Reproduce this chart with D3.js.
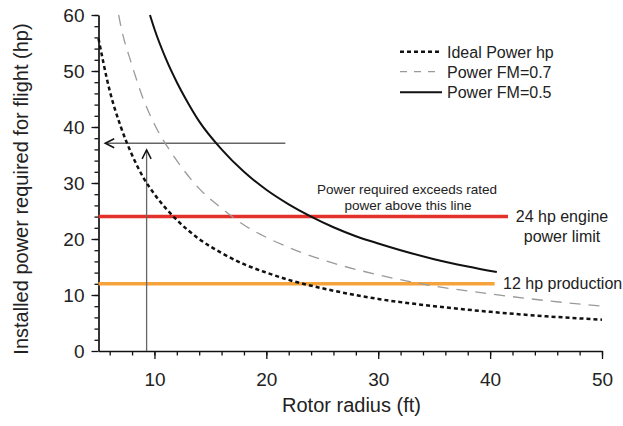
<!DOCTYPE html>
<html><head><meta charset="utf-8">
<script src="https://cdn.jsdelivr.net/npm/d3@7"></script>
<style>body{margin:0;background:#fff}svg{display:block}</style>
</head><body>
<svg id="chart" width="623" height="426"></svg>
<script>
// ---- data ----
const idealRadius = [5, 6, 7, 8, 9, 10, 12, 14, 16, 18, 20, 22, 25, 30, 35, 40, 45, 50];
const idealPower  = [55.8, 46.5, 40, 35, 31, 28, 23.4, 20, 17.5, 15.5, 14, 12.7, 11.2, 9.3, 8, 7, 6.2, 5.6];

const fm07Radius = [6.8, 7, 8, 9, 10, 12, 14, 16, 18, 20, 22, 25, 30, 35, 40, 45, 50];
const fm07Power  = [60, 58, 51, 45, 40.5, 34, 29, 25.5, 22.5, 20.3, 18.5, 16.3, 13.6, 11.6, 10.2, 9, 8];

const fm05Radius = [9.6, 10, 11, 12, 13, 14, 16, 18, 20, 22, 24, 26, 28, 30, 32, 35, 38, 40.6];
const fm05Power  = [60, 57.5, 52.3, 48, 44.3, 41, 36, 32, 28.8, 26.2, 24, 22.1, 20.5, 19.2, 18, 16.4, 15.1, 14.1];

const limitValues = [24, 12];          // hp
const limitEndRadius = [41.6, 40.4];   // ft
const horizArrow = {power: 37.1, from: 21.7, to: 5.6};
const vertArrow  = {radius: 9.3, from: 0, to: 35.9};

const xMajorTicks = [10, 20, 30, 40, 50];
const yMajorTicks = [0, 10, 20, 30, 40, 50, 60];
const legendLabels = ["Ideal Power hp", "Power FM=0.7", "Power FM=0.5"];

// ---- drawing ----
const FONT = "'Liberation Sans', Arial, Helvetica, sans-serif";
const svg = d3.select("#chart");
const x = d3.scaleLinear().domain([5, 50]).range([98.5, 602]);
const y = d3.scaleLinear().domain([0, 60]).range([351, 15]);

const xMinor = d3.range(6, 51, 2);
const yMinor = d3.range(2, 61, 2);

// minor ticks
const gxm = svg.append("g").attr("transform", `translate(0,${y(0)})`)
  .call(d3.axisBottom(x).tickValues(xMinor).tickSize(4.5).tickSizeOuter(0).tickFormat(""));
gxm.select(".domain").remove();
const gym = svg.append("g").attr("transform", `translate(${x(5)},0)`)
  .call(d3.axisLeft(y).tickValues(yMinor).tickSize(4).tickSizeOuter(0).tickFormat(""));
gym.select(".domain").remove();

// major axes
const gx = svg.append("g").attr("transform", `translate(0,${y(0)})`)
  .call(d3.axisBottom(x).tickValues(xMajorTicks).tickSize(8).tickSizeOuter(0).tickPadding(14).tickFormat(d3.format("d")));
const gy = svg.append("g").attr("transform", `translate(${x(5)},0)`)
  .call(d3.axisLeft(y).tickValues(yMajorTicks).tickSize(7).tickSizeOuter(0).tickPadding(7).tickFormat(d3.format("d")));

svg.selectAll(".tick line").attr("stroke", "#111").attr("stroke-width", 1.3);
[gx, gy].forEach(g => {
  g.select(".domain").attr("stroke", "#111").attr("stroke-width", 1.7);
  g.selectAll("text").attr("font-family", FONT).attr("font-size", 19).attr("fill", "#222");
});

// axis titles
svg.append("text").attr("x", 351.5).attr("y", 412).attr("text-anchor", "middle")
  .attr("font-family", FONT).attr("font-size", 20).attr("fill", "#222").text("Rotor radius (ft)");
svg.append("text").attr("transform", "translate(28,189) rotate(-90)").attr("text-anchor", "middle")
  .attr("font-family", FONT).attr("font-size", 20).attr("fill", "#222").text("Installed power required for flight (hp)");

// limit lines
const limitColors = ["#e3302a", "#f5a33a"];
limitValues.forEach((v, i) => {
  svg.append("line").attr("x1", x(5)).attr("x2", x(limitEndRadius[i]))
    .attr("y1", y(v)).attr("y2", y(v))
    .attr("stroke", limitColors[i]).attr("stroke-width", 3.5);
});

// arrows
const defs = svg.append("defs");
defs.append("marker").attr("id", "arrow").attr("markerUnits", "userSpaceOnUse")
  .attr("viewBox", "-10 -6 12 12").attr("refX", 0).attr("refY", 0)
  .attr("markerWidth", 12).attr("markerHeight", 12).attr("orient", "auto")
  .append("path").attr("d", "M-9,-4.5 L0,0 L-9,4.5").attr("fill", "none")
  .attr("stroke", "#111").attr("stroke-width", 1.5);

svg.append("line").attr("x1", x(horizArrow.from)).attr("x2", x(horizArrow.to))
  .attr("y1", y(horizArrow.power)).attr("y2", y(horizArrow.power))
  .attr("stroke", "#666").attr("stroke-width", 1.3).attr("marker-end", "url(#arrow)");
svg.append("line").attr("x1", x(vertArrow.radius)).attr("x2", x(vertArrow.radius))
  .attr("y1", y(vertArrow.from)).attr("y2", y(vertArrow.to))
  .attr("stroke", "#666").attr("stroke-width", 1.3).attr("marker-end", "url(#arrow)");

// curves
const line = d3.line().x(d => x(d[0])).y(d => y(d[1])).curve(d3.curveMonotoneX);
const styles = [
  {stroke: "#111", width: 2.5, dash: "4,3"},
  {stroke: "#9a9a9a", width: 1.3, dash: "11,8"},
  {stroke: "#111", width: 2, dash: null}
];
const series = [
  d3.zip(idealRadius, idealPower),
  d3.zip(fm07Radius, fm07Power),
  d3.zip(fm05Radius, fm05Power)
];
series.forEach((s, i) => {
  svg.append("path").attr("d", line(s)).attr("fill", "none")
    .attr("stroke", styles[i].stroke).attr("stroke-width", styles[i].width)
    .attr("stroke-dasharray", styles[i].dash);
});

// legend
const legendY = [51.7, 71.7, 92.3];
const legendDash = ["4,3", "7,7", null];
legendLabels.forEach((lab, i) => {
  svg.append("line").attr("x1", 400).attr("x2", 442).attr("y1", legendY[i]).attr("y2", legendY[i])
    .attr("stroke", styles[i].stroke).attr("stroke-width", styles[i].width)
    .attr("stroke-dasharray", legendDash[i]);
  svg.append("text").attr("x", 447).attr("y", legendY[i] + 5.8)
    .attr("font-family", FONT).attr("font-size", 16).attr("fill", "#222").text(lab);
});

// annotations
const ann = svg.append("g").attr("font-family", FONT).attr("fill", "#222");
ann.append("text").attr("x", 407).attr("y", 194).attr("text-anchor", "middle").attr("font-size", 13.5)
  .text("Power required exceeds rated");
ann.append("text").attr("x", 408).attr("y", 210).attr("text-anchor", "middle").attr("font-size", 13.5)
  .text("power above this line");
ann.append("text").attr("x", 562).attr("y", y(limitValues[0]) + 5.5).attr("text-anchor", "middle").attr("font-size", 16)
  .text("24 hp engine");
ann.append("text").attr("x", 562).attr("y", y(limitValues[0]) + 25.5).attr("text-anchor", "middle").attr("font-size", 16)
  .text("power limit");
ann.append("text").attr("x", 503).attr("y", y(limitValues[1]) + 5.5).attr("font-size", 16)
  .text("12 hp production");
</script>
</body></html>
